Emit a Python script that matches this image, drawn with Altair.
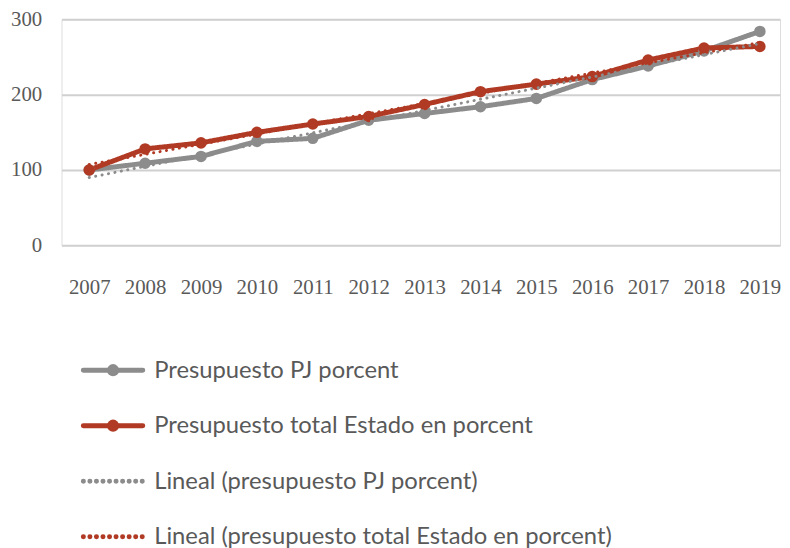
import altair as alt
import pandas as pd

years = [2007, 2008, 2009, 2010, 2011, 2012, 2013, 2014, 2015, 2016, 2017, 2018, 2019]
pj_values = [100, 109, 118, 138, 142, 166, 175, 184, 195, 220, 238, 258, 284]
total_values = [100, 128, 136, 150, 161, 171, 187, 204, 214, 224, 246, 262, 264]

series_names = ["Presupuesto PJ porcent", "Presupuesto total Estado en porcent"]
trend_names = ["Lineal (presupuesto PJ porcent)", "Lineal (presupuesto total Estado en porcent)"]
all_names = series_names + trend_names
colors = ["#8c8c8c", "#b03a24", "#8c8c8c", "#b03a24"]
dashes = [[1, 0], [1, 0], [0.1, 6.5], [0.1, 6.5]]
widths = [5, 5, 3, 3]
y_ticks = [0, 100, 200, 300]

rows = []
for y, a, b in zip(years, pj_values, total_values):
    rows.append({"year": y, "value": a, "series": series_names[0]})
    rows.append({"year": y, "value": b, "series": series_names[1]})
df = pd.DataFrame(rows)
legend_df = pd.DataFrame({"series": all_names})

label_color = "#595959"

color_scale = alt.Scale(domain=all_names, range=colors)
dash_scale = alt.Scale(domain=all_names, range=dashes)
width_scale = alt.Scale(domain=all_names, range=widths)

x_enc = alt.X("year:Q",
              scale=alt.Scale(domain=[2006.504, 2019.36], nice=False, zero=False),
              axis=alt.Axis(values=years, format="d", title=None, grid=False, domain=False,
                            ticks=False, labelPadding=32, labelFlush=False,
                            labelFont="Liberation Serif", labelFontSize=21, labelColor=label_color))
y_enc = alt.Y("value:Q",
              scale=alt.Scale(domain=[0, 300], nice=False),
              axis=alt.Axis(values=y_ticks, title=None, grid=True, gridColor="#d0d0d0", gridWidth=2,
                            domain=False, ticks=False, labelPadding=20,
                            labelFont="Liberation Serif", labelFontSize=21, labelColor=label_color))

color_enc = alt.Color("series:N", scale=color_scale, legend=None)
dash_enc = alt.StrokeDash("series:N", scale=dash_scale, legend=None)

base = alt.Chart(df)

lines = base.mark_line(strokeWidth=5).encode(x=x_enc, y=y_enc, color=color_enc, strokeDash=dash_enc)
points = base.mark_circle(size=135, opacity=1).encode(x=x_enc, y=y_enc, color=color_enc)

trend = base.transform_regression(
    "year", "value", groupby=["series"], extent=[2007, 2019]
).transform_calculate(
    series="'Lineal (' + lower(slice(datum.series, 0, 1)) + slice(datum.series, 1) + ')'"
).mark_line(strokeWidth=3, strokeCap="round").encode(x=x_enc, y=y_enc, color=color_enc, strokeDash=dash_enc)

main = alt.layer(lines, points, trend).properties(width=725, height=228)

# legend panel built from the series names
ly = alt.Y("series:N", sort=all_names,
           scale=alt.Scale(type="point", domain=all_names, padding=0),
           axis=alt.Axis(orient="right", title=None, domain=False, ticks=False, grid=False,
                         labelPadding=11, labelFont="Lato", labelFontSize=24,
                         labelColor=label_color, labelLimit=800))
lx_scale = alt.Scale(domain=[0, 1], range=[22, 82], nice=False, zero=False)
lbase = alt.Chart(legend_df)
leg_lines = lbase.mark_rule(strokeCap="round").encode(
    y=ly,
    x=alt.X(datum=0, scale=lx_scale, axis=None),
    x2=alt.X2(datum=1),
    color=color_enc, strokeDash=dash_enc,
    strokeWidth=alt.StrokeWidth("series:N", scale=width_scale, legend=None),
)
leg_points = lbase.transform_filter(
    alt.FieldOneOfPredicate(field="series", oneOf=series_names)
).mark_circle(size=150, opacity=1).encode(
    y=ly, x=alt.X(datum=0.5, scale=lx_scale, axis=None), color=color_enc,
)
legend_panel = alt.layer(leg_lines, leg_points).properties(
    width=82, height=168, view=alt.ViewBackground(stroke="transparent", strokeWidth=0)
)

chart = alt.vconcat(main, legend_panel, spacing=60).properties(
    padding={"left": 2, "top": -3, "right": 0, "bottom": 0}
).configure_view(stroke="transparent", strokeWidth=0).configure(background="white")

chart.save("out.html", embed_options={"renderer": "svg", "actions": False})
